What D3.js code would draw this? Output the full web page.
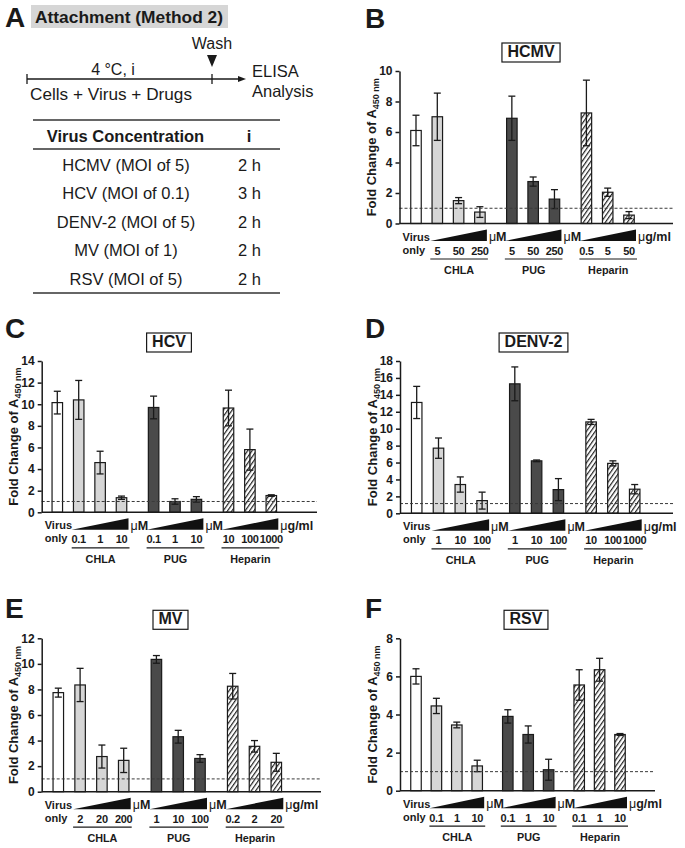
<!DOCTYPE html>
<html><head><meta charset="utf-8">
<script src="https://cdn.jsdelivr.net/npm/d3@7"></script>
<style>
body{margin:0;background:#fff}
svg{display:block}
text{font-family:"Liberation Sans",Arial,Helvetica,sans-serif;fill:#1a1a1a}
</style>
</head><body>
<svg id="fig" width="685" height="848"></svg>
<script>
// ---------------- DATA ----------------
const categories = ["Virus only", "CHLA", "PUG", "Heparin"];
const unitLabels = ["μM", "μM", "μg/ml"];

const hcmvMeans  = [6.1, 7.0, 1.5, 0.75, 6.9, 2.75, 1.6, 7.25, 2.05, 0.55];
const hcmvErrors = [1.0, 1.55, 0.2, 0.35, 1.45, 0.3, 0.62, 2.15, 0.27, 0.23];
const hcmvDoses  = ["5", "50", "250", "5", "50", "250", "0.5", "5", "50"];
const hcmvTicks  = [0, 2, 4, 6, 8, 10];

const hcvMeans  = [10.15, 10.4, 4.6, 1.35, 9.7, 1.0, 1.2, 9.65, 5.8, 1.55];
const hcvErrors = [1.05, 1.8, 1.05, 0.15, 1.05, 0.25, 0.25, 1.65, 1.9, 0.07];
const hcvDoses  = ["0.1", "1", "10", "0.1", "1", "10", "10", "100", "1000"];
const hcvTicks  = [0, 2, 4, 6, 8, 10, 12, 14];

const denvMeans  = [13.1, 7.7, 3.4, 1.5, 15.3, 6.2, 2.8, 10.8, 5.9, 2.85];
const denvErrors = [1.9, 1.2, 0.9, 1.0, 2.0, 0.1, 1.3, 0.3, 0.3, 0.55];
const denvDoses  = ["1", "10", "100", "1", "10", "100", "10", "100", "1000"];
const denvTicks  = [0, 2, 4, 6, 8, 10, 12, 14, 16, 18];

const mvMeans  = [7.75, 8.35, 2.75, 2.45, 10.35, 4.3, 2.6, 8.25, 3.55, 2.3];
const mvErrors = [0.35, 1.3, 0.9, 0.95, 0.3, 0.5, 0.3, 1.0, 0.45, 0.7];
const mvDoses  = ["2", "20", "200", "1", "10", "100", "0.2", "2", "20"];
const mvTicks  = [0, 2, 4, 6, 8, 10, 12];

const rsvMeans  = [6.0, 4.45, 3.45, 1.3, 3.9, 2.95, 1.1, 5.55, 6.35, 2.95];
const rsvErrors = [0.4, 0.4, 0.15, 0.3, 0.35, 0.45, 0.55, 0.8, 0.6, 0.05];
const rsvDoses  = ["0.1", "1", "10", "0.1", "1", "10", "0.1", "1", "10"];
const rsvTicks  = [0, 2, 4, 6, 8];

const panelTitles  = ["HCMV", "HCV", "DENV-2", "MV", "RSV"];
const panelLetters = ["B", "C", "D", "E", "F"];
const referenceLevels = [1, 1, 1.15, 1, 1];

const tableViruses = ["HCMV (MOI of 5)", "HCV (MOI of 0.1)", "DENV-2 (MOI of 5)", "MV (MOI of 1)", "RSV (MOI of 5)"];
const tableTimes   = ["2 h", "3 h", "2 h", "2 h", "2 h"];

// ---------------- LAYOUT ----------------
const layouts = [
  {axisX: 399.5, axisEnd: 673, yTop: 71,    yBottom: 223.5, x0: 416,   step: 21.3, titleX: 531,   letterX: 365, letterY: 28},
  {axisX: 41.7,  axisEnd: 317, yTop: 361,   yBottom: 512.3, x0: 57.3,  step: 21.4, titleX: 169,   letterX: 5,   letterY: 338},
  {axisX: 400,   axisEnd: 673, yTop: 361,   yBottom: 513.3, x0: 416.7, step: 21.8, titleX: 533.5, letterX: 365, letterY: 338},
  {axisX: 41.7,  axisEnd: 321, yTop: 638.3, yBottom: 791.7, x0: 58.3,  step: 21.8, titleX: 170.5, letterX: 5,   letterY: 618},
  {axisX: 400,   axisEnd: 655, yTop: 638.3, yBottom: 790.7, x0: 416,   step: 20.4, titleX: 526,   letterX: 365, letterY: 618}
];

const panelData = [
  {means: hcmvMeans, errors: hcmvErrors, doses: hcmvDoses, ticks: hcmvTicks},
  {means: hcvMeans,  errors: hcvErrors,  doses: hcvDoses,  ticks: hcvTicks},
  {means: denvMeans, errors: denvErrors, doses: denvDoses, ticks: denvTicks},
  {means: mvMeans,   errors: mvErrors,   doses: mvDoses,   ticks: mvTicks},
  {means: rsvMeans,  errors: rsvErrors,  doses: rsvDoses,  ticks: rsvTicks}
];

const groupFill = ["#ffffff", "#d6d6d6", "#4a4a4a", "url(#hatch)"];
const INK = "#1a1a1a";

const svg = d3.select("#fig");
const defs = svg.append("defs");
const pat = defs.append("pattern").attr("id", "hatch")
  .attr("patternUnits", "userSpaceOnUse").attr("width", 3.6).attr("height", 10)
  .attr("patternTransform", "rotate(35)");
pat.append("rect").attr("width", 3.6).attr("height", 10).attr("fill", "#fff");
pat.append("line").attr("x1", 0.6).attr("x2", 0.6).attr("y1", 0).attr("y2", 10)
  .attr("stroke", "#222").attr("stroke-width", 1.2);

function barRecords(d) {
  const recs = [];
  recs.push({g: 0, i: 0, slot: 0, v: d.means[0], e: d.errors[0]});
  for (let g = 1; g <= 3; g++) {
    for (let i = 0; i < 3; i++) {
      const k = 1 + (g - 1) * 3 + i;
      recs.push({g, i, slot: 1 + (g - 1) * 3.5 + i, v: d.means[k], e: d.errors[k], dose: d.doses[k - 1]});
    }
  }
  return recs;
}

panelData.forEach((d, pi) => {
  const L = layouts[pi];
  const ymax = d.ticks[d.ticks.length - 1];
  const y = d3.scaleLinear().domain([0, ymax]).range([L.yBottom, L.yTop]);
  const x = d3.scaleLinear().domain([0, 10]).range([L.x0, L.x0 + 10 * L.step]);
  const g = svg.append("g");
  const recs = barRecords(d);
  const bw = 10.5;

  g.append("text").attr("x", L.letterX).attr("y", L.letterY)
    .attr("font-size", 28).attr("font-weight", "bold").text(panelLetters[pi]);

  const tt = g.append("text").attr("x", L.titleX).attr("y", L.yTop - 14)
    .attr("text-anchor", "middle").attr("font-size", 16).attr("font-weight", "bold")
    .text(panelTitles[pi]);
  const tw = tt.node().getComputedTextLength();
  g.insert("rect", "text:last-child").attr("x", L.titleX - tw / 2 - 5.5).attr("y", L.yTop - 28)
    .attr("width", tw + 11).attr("height", 19).attr("fill", "#fff")
    .attr("stroke", INK).attr("stroke-width", 1.2);

  g.selectAll("rect.bar").data(recs).join("rect").attr("class", "bar")
    .attr("x", r => x(r.slot) - bw / 2).attr("width", bw)
    .attr("y", r => y(r.v)).attr("height", r => y(0) - y(r.v))
    .attr("fill", r => groupFill[r.g]).attr("stroke", INK).attr("stroke-width", 1.2);

  const eb = g.selectAll("g.err").data(recs).join("g").attr("class", "err")
    .attr("stroke", INK).attr("stroke-width", 1.3);
  eb.append("line").attr("x1", r => x(r.slot)).attr("x2", r => x(r.slot))
    .attr("y1", r => y(r.v - r.e)).attr("y2", r => y(r.v + r.e));
  eb.append("line").attr("x1", r => x(r.slot) - 3.5).attr("x2", r => x(r.slot) + 3.5)
    .attr("y1", r => y(r.v + r.e)).attr("y2", r => y(r.v + r.e));
  eb.append("line").attr("x1", r => x(r.slot) - 3.5).attr("x2", r => x(r.slot) + 3.5)
    .attr("y1", r => y(r.v - r.e)).attr("y2", r => y(r.v - r.e));

  g.append("line").attr("x1", L.axisX).attr("x2", L.axisEnd)
    .attr("y1", y(referenceLevels[pi])).attr("y2", y(referenceLevels[pi]))
    .attr("stroke", "#3a3a3a").attr("stroke-width", 1).attr("stroke-dasharray", "3,2");

  const ax = g.append("g").attr("transform", `translate(${L.axisX},0)`)
    .call(d3.axisLeft(y).tickValues(d.ticks).tickSize(4).tickSizeOuter(0).tickPadding(3));
  ax.select(".domain").attr("stroke", INK).attr("stroke-width", 1.5);
  ax.selectAll(".tick line").attr("stroke", INK).attr("stroke-width", 1.5);
  ax.selectAll(".tick text").attr("font-size", 12).attr("font-weight", "bold")
    .attr("fill", INK).style("font-family", '"Liberation Sans",Arial,sans-serif');

  g.append("line").attr("x1", L.axisX).attr("x2", L.axisEnd)
    .attr("y1", y(0)).attr("y2", y(0)).attr("stroke", INK).attr("stroke-width", 1.5);

  const cy = (L.yTop + L.yBottom) / 2, cx = L.axisX - 28;
  const yl = g.append("text").attr("transform", `translate(${cx + 4.5},${cy}) rotate(-90)`)
    .attr("text-anchor", "middle").attr("font-size", 13).attr("font-weight", "bold");
  yl.append("tspan").text("Fold Change of A");
  yl.append("tspan").attr("font-size", 9).attr("dy", 3).text("450 nm");

  const base = y(0);
  g.append("text").attr("x", L.axisX + 3).attr("y", base + 17)
    .attr("font-size", 11).attr("font-weight", "bold").text("Virus");
  g.append("text").attr("x", L.axisX + 3).attr("y", base + 30)
    .attr("font-size", 11).attr("font-weight", "bold").text("only");

  for (let gi = 1; gi <= 3; gi++) {
    const gr = recs.filter(r => r.g === gi);
    const xs = x(gr[0].slot), xe = x(gr[2].slot);
    const w0 = xs - 7, w1 = xe + 7;
    g.append("path").attr("d", `M${w0},${base + 17.5}L${w1},${base + 6}L${w1},${base + 17.5}Z`)
      .attr("fill", "#111");
    const ut = g.append("text").attr("x", w1 + 2).attr("y", base + 17.5)
      .attr("font-size", 12.5).attr("font-weight", "bold");
    const u = unitLabels[gi - 1];
    ut.append("tspan").attr("font-weight", "normal").text(u[0]);
    ut.append("tspan").text(u.slice(1));
    g.selectAll(null).data(gr).join("text").attr("x", r => x(r.slot)).attr("y", base + 31)
      .attr("text-anchor", "middle").attr("font-size", 11).attr("font-weight", "bold")
      .attr("letter-spacing", -0.3)
      .text(r => r.dose);
    g.append("line").attr("x1", xs - 7).attr("x2", xe + 8)
      .attr("y1", base + 35.5).attr("y2", base + 35.5).attr("stroke", INK).attr("stroke-width", 1.2);
    g.append("text").attr("x", (xs + xe) / 2 + 0.5).attr("y", base + 50.5)
      .attr("text-anchor", "middle").attr("font-size", 10.8).attr("font-weight", "bold")
      .text(categories[gi]);
  }
});

// ---------------- PANEL A ----------------
const A = svg.append("g");
A.append("text").attr("x", 5).attr("y", 27).attr("font-size", 28).attr("font-weight", "bold").text("A");
A.append("rect").attr("x", 31).attr("y", 5).attr("width", 197).attr("height", 23).attr("fill", "#d6d6d6");
A.append("text").attr("x", 35).attr("y", 23).attr("font-size", 16.5).attr("font-weight", "bold")
  .attr("textLength", 188).attr("lengthAdjust", "spacingAndGlyphs")
  .text("Attachment (Method 2)");

A.append("line").attr("x1", 27).attr("x2", 242).attr("y1", 79).attr("y2", 79).attr("stroke", INK).attr("stroke-width", 1.3);
A.append("path").attr("d", "M238,76L246,79L238,82Z").attr("fill", INK);
A.append("line").attr("x1", 27).attr("x2", 27).attr("y1", 74).attr("y2", 84).attr("stroke", INK).attr("stroke-width", 1.3);
A.append("line").attr("x1", 212).attr("x2", 212).attr("y1", 74).attr("y2", 84).attr("stroke", INK).attr("stroke-width", 1.3);
A.append("path").attr("d", "M207,55L217,55L212,67Z").attr("fill", INK);
A.append("text").attr("x", 212).attr("y", 49).attr("text-anchor", "middle").attr("font-size", 16).text("Wash");
A.append("text").attr("x", 113).attr("y", 75).attr("text-anchor", "middle").attr("font-size", 16).text("4 °C, i");
A.append("text").attr("x", 30).attr("y", 100).attr("font-size", 16.5)
  .attr("textLength", 162).attr("lengthAdjust", "spacingAndGlyphs").text("Cells + Virus + Drugs");
A.append("text").attr("x", 252).attr("y", 77).attr("font-size", 16.5).text("ELISA");
A.append("text").attr("x", 252).attr("y", 96.5).attr("font-size", 16.5).text("Analysis");

A.append("line").attr("x1", 33).attr("x2", 280).attr("y1", 120).attr("y2", 120).attr("stroke", "#333").attr("stroke-width", 1.3);
A.append("line").attr("x1", 33).attr("x2", 280).attr("y1", 149).attr("y2", 149).attr("stroke", "#333").attr("stroke-width", 1.3);
A.append("line").attr("x1", 33).attr("x2", 280).attr("y1", 293).attr("y2", 293).attr("stroke", "#333").attr("stroke-width", 1.3);
A.append("text").attr("x", 125.5).attr("y", 142).attr("text-anchor", "middle").attr("font-size", 16.5)
  .attr("font-weight", "bold").text("Virus Concentration");
A.append("text").attr("x", 249).attr("y", 142).attr("text-anchor", "middle").attr("font-size", 16.5)
  .attr("font-weight", "bold").text("i");
A.selectAll("text.vrow").data(tableViruses).join("text").attr("class", "vrow")
  .attr("x", 126).attr("y", (d, i) => 170.5 + i * 28.5).attr("text-anchor", "middle")
  .attr("font-size", 16.5).text(d => d);
A.selectAll("text.trow").data(tableTimes).join("text").attr("class", "trow")
  .attr("x", 249.5).attr("y", (d, i) => 170.5 + i * 28.5).attr("text-anchor", "middle")
  .attr("font-size", 16.5).text(d => d);
</script>
</body></html>
